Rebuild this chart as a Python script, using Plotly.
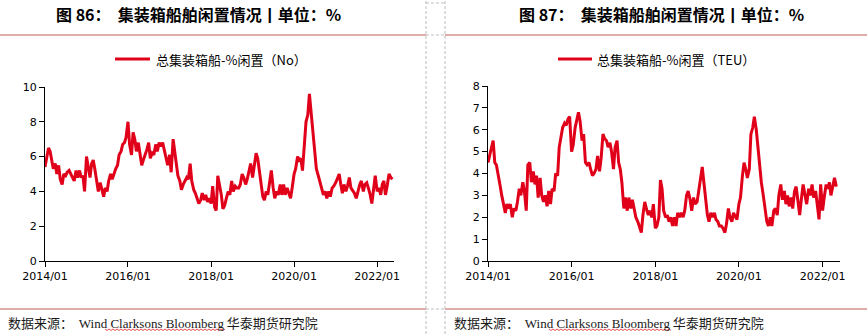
import pandas as pd
import plotly.graph_objects as go

W, H = 867, 334

# Idle containership share, semi-monthly readings from Jan 2014
idle_ships_pct = [
    5.4, 5.9, 6.5, 6.3, 5.7, 5.3, 5.6, 5.0, 5.5, 4.7,
    4.4, 5.0, 4.9, 5.1, 5.2, 5.0, 4.8, 4.6, 5.2, 4.8,
    5.2, 4.8, 4.9, 4.0, 6.0, 5.5, 4.8, 5.6, 5.8, 5.3,
    4.6, 4.0, 4.5, 4.2, 3.7, 4.2, 4.0, 4.6, 5.0, 4.7,
    5.1, 5.3, 5.5, 6.1, 6.3, 6.7, 6.8, 7.1, 8.0,
    6.7, 6.1, 7.4, 7.0, 6.3, 6.8, 6.1, 5.5, 5.8, 6.1,
    6.4, 6.8, 5.9, 6.2, 6.1, 6.7, 6.3, 6.8, 6.6, 6.8,
    6.4, 6.0, 5.5, 6.1, 5.1, 7.0, 6.3, 5.3, 4.9, 4.6,
    4.1, 4.4, 4.6, 4.8, 4.7, 5.6, 4.6, 4.1, 3.9, 3.6,
    3.3, 3.5, 3.9, 3.5, 3.8, 3.4, 3.6, 3.3, 4.3, 3.1, 2.9,
    4.9, 4.4, 3.8, 3.0, 3.2, 3.6, 4.0, 3.8, 4.6, 4.0,
    4.3, 4.2, 4.2, 4.4, 5.0, 4.8, 4.4, 4.7, 5.1, 5.6,
    4.8, 5.5, 6.2,
    5.9, 5.1, 4.4, 3.7, 3.5, 4.0, 3.8, 4.6, 5.2, 4.2,
    3.6, 4.0, 3.8, 4.4, 3.8, 4.4, 3.8, 4.2, 3.9, 3.6,
    4.2, 5.0, 5.3, 6.0, 5.8, 5.9, 5.2, 7.0, 8.0, 8.4, 9.6,
    8.4, 7.4, 6.1, 5.3, 4.9, 4.6, 4.2, 3.8, 4.0, 3.6,
    4.0, 3.7, 4.2, 4.3, 4.5, 4.7, 5.0, 4.4, 3.9, 4.4,
    4.0, 4.3, 4.8, 4.2, 4.0, 3.9, 3.6, 4.0, 4.4, 4.6,
    4.0, 4.4, 4.5, 4.2, 3.8, 3.3, 4.2, 4.9, 4.0, 4.2,
    3.8, 4.4, 4.6, 3.8, 4.4, 5.0, 4.8, 4.7,
]

# Idle containership capacity share (TEU), same cadence
idle_teu_pct = [
    4.5, 4.9, 5.2, 5.5, 4.5, 4.4, 3.8, 3.5, 3.0, 2.6,
    2.2, 2.6, 2.4, 2.6, 2.0, 2.4, 2.3, 2.7, 3.3, 3.0,
    3.6, 3.2, 2.3, 4.4, 4.5, 3.6, 4.1, 3.5, 3.9, 2.9,
    3.8, 3.0, 2.7, 3.0, 2.5, 3.2, 2.6, 3.3, 3.2, 4.0,
    3.9, 5.2, 5.6, 6.1, 6.3, 6.2, 6.5, 6.6, 5.0, 5.3,
    6.1, 6.5, 6.8, 6.4, 5.5, 5.8, 4.5, 4.4, 4.5, 4.2,
    3.9, 4.0, 4.2, 4.8, 4.1, 4.7, 5.8, 5.6, 5.5, 5.2,
    5.4, 5.0, 4.2, 5.2, 5.5, 4.5, 4.2, 3.6, 2.4, 2.9,
    2.3, 2.9, 2.4, 2.8, 2.3, 2.0, 1.8, 1.6, 1.3, 2.1,
    2.7, 2.4, 2.1, 2.3, 2.0, 2.6, 1.5, 1.6,
    2.0, 3.7, 3.3, 2.3, 2.0, 2.1, 1.8, 2.0, 1.6, 2.0,
    1.6, 2.2, 2.0, 2.2, 2.0, 2.3, 3.0, 3.2, 2.8, 2.3,
    2.9, 2.6, 2.7, 3.2, 3.8, 4.3, 3.6, 3.0, 2.1, 1.8,
    2.2, 2.0, 2.2, 1.9, 1.8, 1.6, 1.6, 1.5, 1.3, 1.7,
    2.4, 2.0, 1.8, 2.2, 2.0, 1.9, 2.6, 2.9, 3.9, 4.5,
    4.2, 3.8, 4.2, 5.8, 6.1, 6.6, 6.0, 5.2, 4.4, 3.6,
    3.0, 2.4, 1.8, 1.6, 2.0, 1.6, 2.3, 2.4, 2.1, 3.0,
    3.5, 2.8, 3.2, 2.6, 3.0, 2.5, 2.9, 2.4, 3.2, 3.4,
    2.7, 2.1, 2.9, 3.5, 3.0, 2.6, 3.3, 3.0, 3.5, 2.9,
    3.2, 2.6, 1.9, 3.5, 2.3, 2.9, 3.5, 3.3, 3.6, 3.0,
    3.4, 3.8, 3.4,
]

titles = ["图 86：  集装箱船舶闲置情况丨单位：%", "图 87：  集装箱船舶闲置情况丨单位：%"]
legend_names = ["总集装箱船-%闲置（No）", "总集装箱船-%闲置（TEU）"]
source_note = "数据来源：  <span style='font-family:Liberation Serif'>Wind Clarksons Bloomberg</span> 华泰期货研究院"

dates_ships = pd.date_range("2014-01-01", periods=len(idle_ships_pct), freq="SMS")
dates_teu = pd.date_range("2014-01-01", periods=len(idle_teu_pct), freq="SMS")

RED = "#E1001A"
RULE = "#BF5B55"
DASH = "#BDBDBD"
CJK = "Noto Sans CJK SC"
TICKFONT = dict(family="DejaVu Sans", size=11, color="#000000")


def px(x):
    return x / W


def py(y):
    return 1 - y / H


fig = go.Figure()
fig.add_trace(go.Scatter(x=dates_ships, y=idle_ships_pct, mode="lines",
                         line=dict(color=RED, width=3), name=legend_names[0],
                         xaxis="x", yaxis="y", showlegend=False))
fig.add_trace(go.Scatter(x=dates_teu, y=idle_teu_pct, mode="lines",
                         line=dict(color=RED, width=3), name=legend_names[1],
                         xaxis="x2", yaxis="y2", showlegend=False))

axis_common = dict(showline=True, linecolor="#000000", linewidth=1.3, showgrid=False,
                   zeroline=False, ticks="outside", ticklen=5, tickwidth=1.3,
                   tickcolor="#000000", tickfont=TICKFONT, automargin=False)
xaxis_common = dict(axis_common, type="date", tickformat="%Y/%m", dtick="M24",
                    tick0="2014-01-01")

fig.update_layout(
    width=W, height=H, margin=dict(l=0, r=0, t=0, b=0, pad=0, autoexpand=False),
    paper_bgcolor="#FFFFFF", plot_bgcolor="#FFFFFF",
    xaxis=dict(xaxis_common, domain=[px(45), px(394)],
               range=["2014-01-01", "2022-05-29"], anchor="y"),
    yaxis=dict(axis_common, domain=[py(261), py(87)], range=[0, 10], dtick=2,
               anchor="x"),
    xaxis2=dict(xaxis_common, domain=[px(488), px(840)],
                range=["2014-01-01", "2022-06-02"], anchor="y2"),
    yaxis2=dict(axis_common, domain=[py(261), py(86)], range=[0, 8], dtick=1,
                anchor="x2"),
)

shapes = []
annotations = []

# Panel titles, legends and source notes
for title, cx in zip(titles, [198, 661]):
    annotations.append(dict(text=f"<b>{title}</b>", x=px(cx), y=py(13.5), xref="paper",
                            yref="paper", showarrow=False, xanchor="center",
                            yanchor="middle", font=dict(family=CJK, size=16, color="#000000")))

for name, (x0, x1, tx) in zip(legend_names, [(115, 150, 154), (558, 592, 595)]):
    shapes.append(dict(type="line", xref="paper", yref="paper", x0=px(x0), x1=px(x1),
                       y0=py(59), y1=py(59), line=dict(color=RED, width=3)))
    annotations.append(dict(text=name, x=px(tx), y=py(59), xref="paper", yref="paper",
                            showarrow=False, xanchor="left", yanchor="middle",
                            font=dict(family=CJK, size=13, color="#000000")))

for fx, (u0, u1) in zip([6, 452], [(105, 226), (549, 671)]):
    annotations.append(dict(text=source_note, x=px(fx), y=py(322), xref="paper",
                            yref="paper", showarrow=False, xanchor="left",
                            yanchor="middle", font=dict(family=CJK, size=13, color="#1A1A1A")))
    # spell-check style squiggle under the vendor names
    pts = []
    x = u0
    k = 0
    while x <= u1:
        pts.append(f"{'M' if k == 0 else 'L'}{px(x):.5f},{py(329 + (k % 2) * 1.5):.5f}")
        x += 2
        k += 1
    shapes.append(dict(type="path", xref="paper", yref="paper", path=" ".join(pts),
                       line=dict(color="#E02020", width=0.8)))

# Rules under titles and above notes
for y in [35, 309]:
    shapes.append(dict(type="line", xref="paper", yref="paper", x0=0, x1=px(426),
                       y0=py(y), y1=py(y), line=dict(color=RULE, width=1)))
    shapes.append(dict(type="line", xref="paper", yref="paper", x0=px(445), x1=1,
                       y0=py(y), y1=py(y), line=dict(color=RULE, width=1)))

# Dashed cell borders between the two panels
for x in [426, 445]:
    shapes.append(dict(type="line", xref="paper", yref="paper", x0=px(x), x1=px(x),
                       y0=0, y1=1, line=dict(color=DASH, width=1, dash="3px,2px")))
for y in [3, 35, 309]:
    shapes.append(dict(type="line", xref="paper", yref="paper", x0=px(426), x1=px(445),
                       y0=py(y), y1=py(y), line=dict(color=DASH, width=1, dash="3px,2px")))

fig.update_layout(shapes=shapes, annotations=annotations)
fig.write_html("out.html")
